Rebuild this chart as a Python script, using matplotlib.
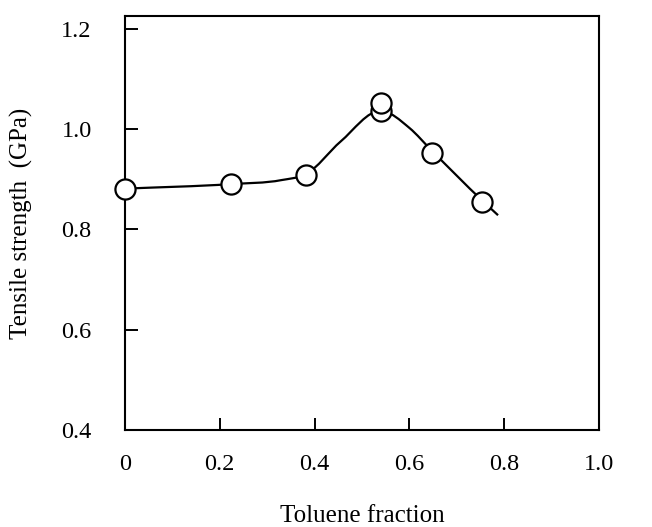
import numpy as np
import matplotlib
matplotlib.use("Agg")
import matplotlib.pyplot as plt
from matplotlib.path import Path
from matplotlib.patches import PathPatch

# Measured tensile strength vs. toluene fraction
fraction = [0.0, 0.223, 0.382, 0.54, 0.54, 0.647, 0.754]
strength = [0.881, 0.890, 0.908, 1.035, 1.052, 0.952, 0.855]

# Hand-drawn guide curve through the data (knots along the line)
curve_x = [0.0, 0.223, 0.33, 0.382, 0.455, 0.54, 0.60, 0.647, 0.754, 0.787]
curve_y = [0.881, 0.890, 0.898, 0.910, 0.975, 1.036, 1.002, 0.957, 0.857, 0.828]

x_ticks = [0, 0.2, 0.4, 0.6, 0.8, 1.0]
x_tick_labels = ["0", "0.2", "0.4", "0.6", "0.8", "1.0"]
y_ticks = [0.4, 0.6, 0.8, 1.0, 1.2]
y_tick_labels = ["0.4", "0.6", "0.8", "1.0", "1.2"]

plt.rcParams["font.family"] = ["Liberation Serif", "DejaVu Serif"]

fig = plt.figure(figsize=(6.52, 5.27), dpi=100)
ax = fig.add_axes([0.1917, 0.1841, 0.727, 0.7855])


def smooth_path(xs, ys):
    """Cubic Hermite curve through the knots, as Bezier path segments."""
    xs = np.asarray(xs, float)
    ys = np.asarray(ys, float)
    h = np.diff(xs)
    s = np.diff(ys) / h
    m = np.empty_like(xs)
    m[0], m[-1] = s[0], s[-1]
    for i in range(1, len(xs) - 1):
        m[i] = (h[i - 1] * s[i] + h[i] * s[i - 1]) / (h[i - 1] + h[i])
    verts = [(xs[0], ys[0])]
    codes = [Path.MOVETO]
    for i in range(len(xs) - 1):
        d = h[i] / 3.0
        verts += [(xs[i] + d, ys[i] + m[i] * d),
                  (xs[i + 1] - d, ys[i + 1] - m[i + 1] * d),
                  (xs[i + 1], ys[i + 1])]
        codes += [Path.CURVE4] * 3
    return Path(verts, codes)


ax.add_patch(PathPatch(smooth_path(curve_x, curve_y), facecolor="none",
                       edgecolor="black", lw=1.6, zorder=2))

ax.plot(fraction, strength, linestyle="none", marker="o", markersize=14.5,
        markerfacecolor="white", markeredgecolor="black", markeredgewidth=1.6,
        zorder=3, clip_on=False)

ax.set_xlim(0, 1.0)
ax.set_ylim(0.4, 1.225)
ax.set_xticks(x_ticks)
ax.set_xticklabels(x_tick_labels)
ax.set_yticks(y_ticks)
ax.set_yticklabels(y_tick_labels)

for side in ["left", "right", "top", "bottom"]:
    ax.spines[side].set_linewidth(1.5)

ax.tick_params(axis="both", direction="in", length=9, width=1.4,
               labelsize=17.5, top=False, right=False)
ax.tick_params(axis="x", pad=17)
ax.tick_params(axis="y", pad=24)

ax.set_xlabel("Toluene fraction", fontsize=18, labelpad=22)
ax.set_ylabel("Tensile strength  (GPa)", fontsize=18, labelpad=20)

fig.savefig("out.png", dpi=100)
